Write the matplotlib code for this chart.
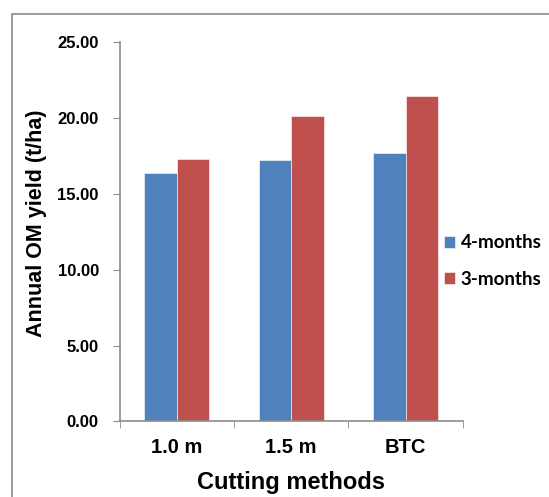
import numpy as np
import matplotlib.pyplot as plt
from matplotlib.patches import Rectangle

# annual organic matter yield (t/ha) per cutting method
methods = ['1.0 m', '1.5 m', 'BTC']
yield_4m = [16.37, 17.25, 17.73]
yield_3m = [17.34, 20.13, 21.47]
series_names = ['4-months', '3-months']
colors = ['#4F81BD', '#C0504D']

plt.rcParams['font.family'] = ['Liberation Sans', 'DejaVu Sans']

fig = plt.figure(figsize=(5.49, 4.97), dpi=100)
ax = fig.add_axes([0.218, 0.152, 0.625, 0.7625])

# outer chart frame
fig.patches.append(Rectangle((12 / 549, -0.1), 1.2, 1 - 14 / 497 + 0.1,
                             transform=fig.transFigure, fill=False,
                             edgecolor='#8c8c8c', linewidth=1.2))

x = np.arange(len(methods))
w = 0.285
ax.bar(x - w / 2, yield_4m, w, color=colors[0], edgecolor='white', linewidth=0.4, label=series_names[0])
ax.bar(x + w / 2, yield_3m, w, color=colors[1], edgecolor='white', linewidth=0.4, label=series_names[1])

ax.set_xlim(-0.5, len(methods) - 0.5)
ax.set_ylim(0, 25)
ax.set_yticks(np.arange(0, 26, 5))
ax.set_yticklabels(['%.2f' % v for v in np.arange(0, 26, 5)], fontsize=12, fontweight='bold')
ax.set_xticks(x)
ax.set_xticklabels(methods, fontsize=14.5, fontweight='bold')
ax.set_xticks(np.arange(-0.5, len(methods), 1), minor=True)
ax.tick_params(axis='x', which='major', length=0, pad=12)
ax.tick_params(axis='x', which='minor', length=5, color='#8c8c8c', direction='out')
ax.tick_params(axis='y', length=5, color='#8c8c8c', direction='out', pad=10)

for side in ['top', 'right']:
    ax.spines[side].set_visible(False)
for side in ['left', 'bottom']:
    ax.spines[side].set_color('#8c8c8c')
    ax.spines[side].set_linewidth(1.2)

ax.set_ylabel('Annual OM yield (t/ha)', fontsize=15.5, fontweight='bold')
ax.yaxis.set_label_coords(-0.212, 0.522)
ax.set_xlabel('Cutting methods', fontsize=17, fontweight='bold', labelpad=10)

ax.legend(loc='center left', bbox_to_anchor=(444 / 549, (497 - 261) / 497),
          bbox_transform=fig.transFigure, frameon=False, borderpad=0, borderaxespad=0,
          prop={'family': 'Lato', 'weight': 'bold', 'size': 13.5},
          handlelength=0.6, handleheight=0.6, handletextpad=0.3, labelspacing=1.05)

fig.savefig('out.png', dpi=100)
